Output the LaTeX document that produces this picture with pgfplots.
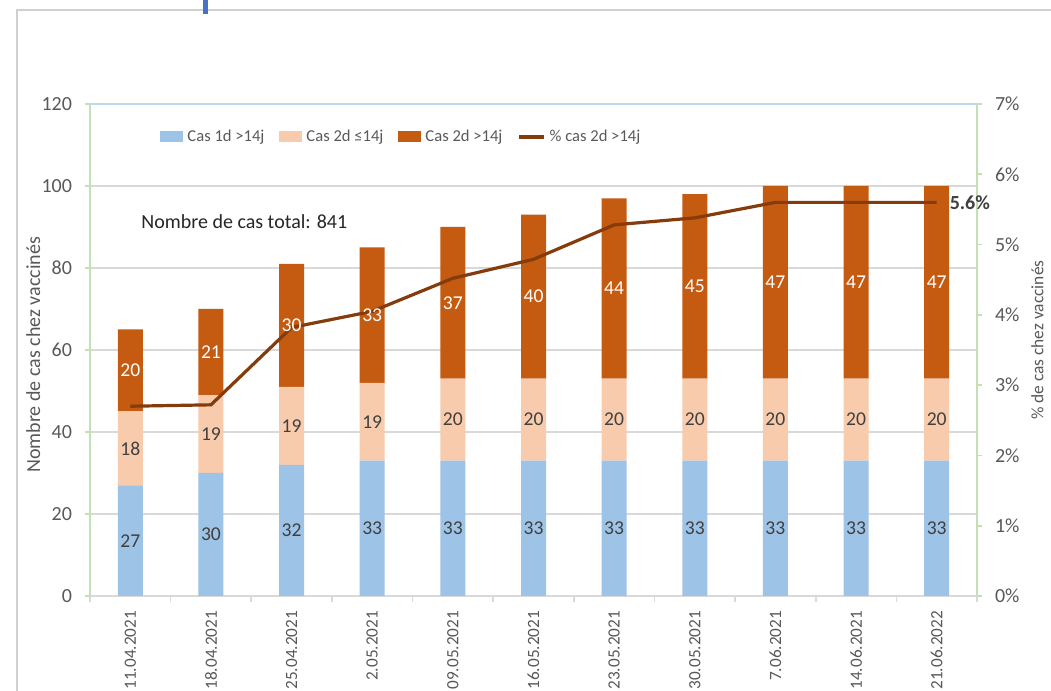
\documentclass[border=0pt]{standalone}
\usepackage{pgfplots}
\pgfplotsset{compat=1.18}
\usepackage{pgfplotstable}
\usepackage{fontspec}
\setmainfont{Carlito}
\definecolor{c1}{HTML}{9DC3E6}
\definecolor{c2}{HTML}{F8CBAD}
\definecolor{c3}{HTML}{C55A11}
\definecolor{cline}{HTML}{843C0C}
\definecolor{tgray}{HTML}{595959}
\definecolor{dgray}{HTML}{404040}
\definecolor{gridc}{HTML}{D9D9D9}
\definecolor{agreen}{HTML}{C5E0B4}
\definecolor{ablue}{HTML}{BDD7EE}
\definecolor{framec}{HTML}{D0D0D0}
\definecolor{mblue}{HTML}{4472C4}

\pgfplotstableread{
x a b c
0 27 18 20
1 30 19 21
2 32 19 30
3 33 19 33
4 33 20 37
5 33 20 40
6 33 20 44
7 33 20 45
8 33 20 47
9 33 20 47
10 33 20 47
}\cases

\pgfplotstableread{
x p
0 2.70
1 2.72
2 3.82
3 4.05
4 4.52
5 4.79
6 5.28
7 5.38
8 5.60
9 5.60
10 5.60
}\pct

\pgfplotsset{
 base/.style={scale only axis, width=443.5pt, height=246pt, at={(45pt,47.5pt)}, anchor=south west,
   xmin=-0.5, xmax=10.5, /pgf/number format/assume math mode=true, clip=false},
 lbl/.style={draw=none, mark=none, nodes near coords, point meta=explicit,
   every node near coord/.style={anchor=center, font=\fontsize{9.8}{11}\selectfont, text=#1}},
 sqleg/.style={legend image code/.code={\fill[##1] (0pt,-2.75pt) rectangle (11.5pt,2.75pt);}},
 lnleg/.style={legend image code/.code={\draw[##1] (0pt,0pt) -- (12.5pt,0pt);}},
}

\begin{document}
\begin{tikzpicture}
\useasboundingbox (0,0) rectangle (525.5pt,345.5pt);
\fill[white] (0,0) rectangle (525.5pt,345.5pt);
\draw[framec, line width=0.8pt] (8.5pt,0) -- (8.5pt,340.5pt) -- (525.5pt,340.5pt);
\fill[mblue] (101.5pt,338.5pt) rectangle (104pt,345.5pt);

% bars
\begin{axis}[base,
 ybar stacked, bar width=12.5pt,
 ymin=0, ymax=120, ytick={0,20,...,120},
 axis x line*=bottom, axis y line*=left,
 axis line style={-},
 x axis line style={-,draw=gridc, line width=0.8pt},
 y axis line style={-,draw=agreen, line width=0.8pt},
 xtick={0,...,10},
 xticklabels={11.04.2021,18.04.2021,25.04.2021,2.05.2021,09.05.2021,16.05.2021,23.05.2021,30.05.2021,7.06.2021,14.06.2021,21.06.2022},
 major x tick style={draw=none},
 minor xtick={-0.5,0.5,...,10.5},
 minor x tick style={draw=gridc, line width=0.8pt},
 minor tick length=3pt,
 major tick length=2.5pt,
 tick align=outside,
 ytick style={draw=agreen, line width=0.8pt},
 ymajorgrids, grid style={draw=gridc, line width=0.8pt},
 xticklabel style={rotate=90, anchor=east, font=\fontsize{8.6}{10}\selectfont, text=tgray, xshift=-1.5pt},
 yticklabel style={font=\fontsize{10}{12}\selectfont, text=tgray, xshift=-3pt},
 ylabel={Nombre de cas chez vaccinés},
 ylabel style={at={(axis description cs:-0.064,0.49)}, anchor=center, rotate=0, font=\fontsize{10}{12}\selectfont, text=tgray},
]
\addplot[fill=c1, draw=none] table[x=x,y=a]{\cases};
\addplot[fill=c2, draw=none] table[x=x,y=b]{\cases};
\addplot[fill=c3, draw=none] table[x=x,y=c]{\cases};
\node[anchor=west, font=\fontsize{10}{12}\selectfont, text=black!85] at (rel axis cs:0.050,0.76) {Nombre de cas total: 841};
\end{axis}

% line
\begin{axis}[base,
 ymin=0, ymax=7, ytick={0,...,7},
 axis y line*=right, axis x line=none,
 axis line style={-},
 y axis line style={-,draw=agreen, line width=0.8pt},
 ytick style={draw=agreen, line width=0.8pt},
 major tick length=2.5pt, tick align=outside,
 yticklabel={\pgfmathprintnumber{\tick}\%},
 yticklabel style={font=\fontsize{10}{12}\selectfont, text=tgray, xshift=3pt},
 ylabel={\% de cas chez vaccinés},
 ylabel style={at={(axis description cs:1.068,0.52)}, anchor=center, font=\fontsize{8.7}{10}\selectfont, text=tgray},
 legend style={draw=none, fill=none, at={(axis description cs:0.079,0.933)}, anchor=west,
   legend columns=4, font=\fontsize{8.3}{10}\selectfont, text=tgray, inner sep=0pt,
   /tikz/every even column/.append style={column sep=5.5pt}},
 legend cell align=left,
]
\addlegendimage{sqleg, fill=c1, draw=none}
\addlegendimage{sqleg, fill=c2, draw=none}
\addlegendimage{sqleg, fill=c3, draw=none}
\addplot[cline, line width=1.6pt, mark=none, lnleg] table[x=x,y=p]{\pct};
\addplot[draw=none, mark=none, forget plot, nodes near coords, point meta=explicit symbolic,
  every node near coord/.style={anchor=west, xshift=3pt, font=\bfseries\fontsize{10}{12}\selectfont, text=dgray}]
  coordinates {(10,5.6) [5.6\%]};
\legend{Cas 1d >14j, Cas 2d ≤14j, Cas 2d >14j, \% cas 2d >14j}
\end{axis}

% value labels and top border
\begin{axis}[base,
 ymin=0, ymax=120,
 axis x line*=top, axis y line=none,
 axis line style={-},
 x axis line style={-,draw=ablue, line width=0.8pt},
 xtick=\empty, ytick=\empty,
]
\addplot[lbl=dgray] table[x=x, y expr=\thisrow{a}/2, meta=a]{\cases};
\addplot[lbl=dgray] table[x=x, y expr=\thisrow{a}+\thisrow{b}/2, meta=b]{\cases};
\addplot[lbl=white] table[x=x, y expr=\thisrow{a}+\thisrow{b}+\thisrow{c}/2, meta=c]{\cases};
\end{axis}
\end{tikzpicture}
\end{document}
